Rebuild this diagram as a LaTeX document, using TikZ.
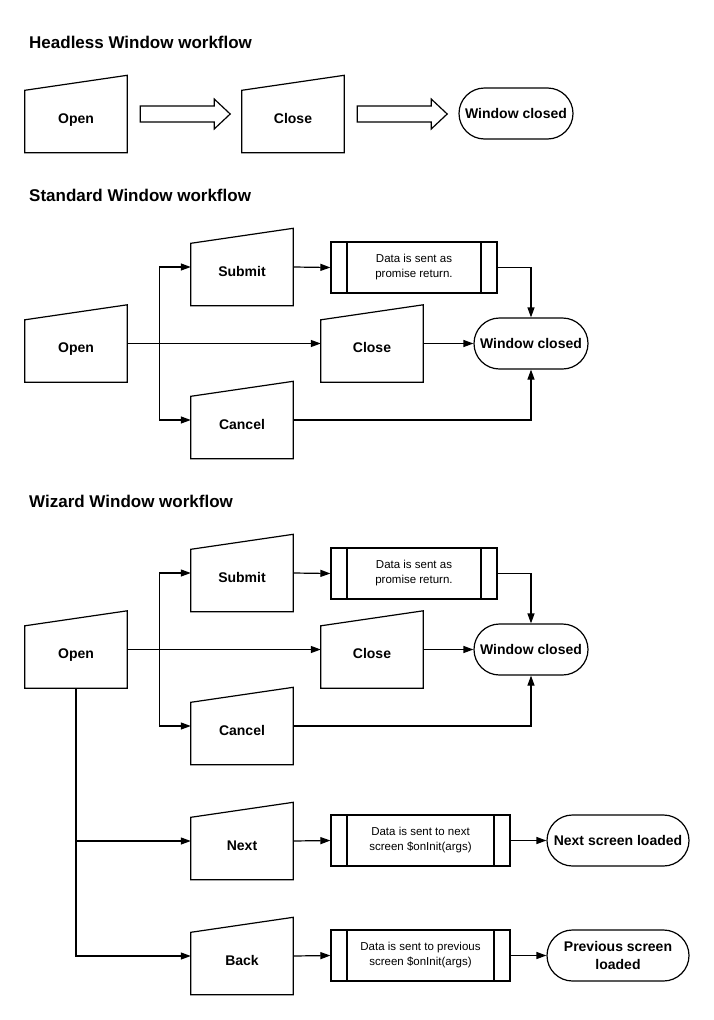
\documentclass[tikz,border=0pt]{standalone}
\usepackage{fontspec}
\setmainfont{Liberation Sans}
\usetikzlibrary{arrows.meta,calc}
\newcommand\maninput[3]{%
  \node[maninbox] (#1) at (#2) {#3};
  \draw[shp] (#1.south west) -- ([yshift=-15pt]#1.north west) -- (#1.north east) -- (#1.south east) -- cycle;}
\begin{document}
\begin{tikzpicture}[x=1pt,y=-1pt,
  lbl/.style={font=\bfseries\fontsize{14}{18}\selectfont},
  maninbox/.style={lbl, minimum width=102pt, minimum height=77pt, inner sep=0pt, text height=20pt, text depth=2pt},
  shp/.style={draw, line width=1.2pt, line join=miter},
  procbox/.style={shp, minimum height=51pt, inner sep=0pt, align=center, font=\fontsize{11.5}{15}\selectfont,
    path picture={\draw[line width=1.2pt]
      ([xshift=16pt]path picture bounding box.north west) -- ([xshift=16pt]path picture bounding box.south west)
      ([xshift=-16pt]path picture bounding box.north east) -- ([xshift=-16pt]path picture bounding box.south east);}},
  term/.style={shp, lbl, minimum height=51pt, rounded corners=25.5pt, inner sep=0pt, align=center},
  conn/.style={line width=1.2pt, -{Triangle[length=10pt,width=7pt]}},
  plain/.style={line width=1.2pt},
  title/.style={font=\bfseries\fontsize{17}{20}\selectfont, anchor=base west, inner sep=0pt}]
\useasboundingbox (0,0) rectangle (714,1020);
\fill[white] (0,0) rectangle (714,1020);

% ---------- Headless ----------
\node[title] (t1) at (29,48) {Headless Window workflow};
\maninput{hopen}{76,114}{Open}
\maninput{hclose}{293,114}{Close}
\node[term, minimum width=114pt] (hwc) at (516,113.5) {Window closed};
\draw[shp] ([xshift=13pt]hopen.east) ++(0,-8) -- ++(74,0) -- ++(0,-7) -- ++(16,15) -- ++(-16,15) -- ++(0,-7) -- ++(-74,0) -- cycle;
\draw[shp] ([xshift=13pt]hclose.east) ++(0,-8) -- ++(74,0) -- ++(0,-7) -- ++(16,15) -- ++(-16,15) -- ++(0,-7) -- ++(-74,0) -- cycle;

% ---------- Standard ----------
\node[title] (t2) at (29,201) {Standard Window workflow};
\maninput{sopen}{76,343.5}{Open}
\maninput{ssubmit}{242,267}{Submit}
\maninput{sclose}{372,343.5}{Close}
\maninput{scancel}{242,420}{Cancel}
\node[procbox, minimum width=166pt] (sdata) at (414,267.5) {Data is sent as\\promise return.};
\node[term, minimum width=114pt] (swc) at (531,343.5) {Window closed};
\coordinate (sbr) at ($(sopen.east)+(32,0)$);
\draw[conn] (sopen.east) -- (sclose.west);
\draw[plain] (sbr |- ssubmit.west) -- (sbr |- scancel.west);
\draw[conn] (sbr |- ssubmit.west) -- (ssubmit.west);
\draw[conn] (sbr |- scancel.west) -- (scancel.west);
\draw[conn] (ssubmit.east) -- (sdata.west);
\draw[conn] (sdata.east) -| (swc.north);
\draw[conn] (sclose.east) -- (swc.west);
\draw[conn] (scancel.east) -| (swc.south);

% ---------- Wizard ----------
\node[title] (t3) at (29,507) {Wizard Window workflow};
\maninput{wopen}{76,649.5}{Open}
\maninput{wsubmit}{242,573}{Submit}
\maninput{wclose}{372,649.5}{Close}
\maninput{wcancel}{242,726}{Cancel}
\node[procbox, minimum width=166pt] (wdata) at (414,573.5) {Data is sent as\\promise return.};
\node[term, minimum width=114pt] (wwc) at (531,649.5) {Window closed};
\coordinate (wbr) at ($(wopen.east)+(32,0)$);
\draw[conn] (wopen.east) -- (wclose.west);
\draw[plain] (wbr |- wsubmit.west) -- (wbr |- wcancel.west);
\draw[conn] (wbr |- wsubmit.west) -- (wsubmit.west);
\draw[conn] (wbr |- wcancel.west) -- (wcancel.west);
\draw[conn] (wsubmit.east) -- (wdata.west);
\draw[conn] (wdata.east) -| (wwc.north);
\draw[conn] (wclose.east) -- (wwc.west);
\draw[conn] (wcancel.east) -| (wwc.south);

\maninput{wnext}{242,841}{Next}
\maninput{wback}{242,956}{Back}
\node[procbox, minimum width=179pt] (wdata2) at (420.5,840.5) {Data is sent to next\\screen \$onInit(args)};
\node[procbox, minimum width=179pt] (wdata3) at (420.5,955.5) {Data is sent to previous\\screen \$onInit(args)};
\node[term, minimum width=142pt] (wnsl) at (618,840.5) {Next screen loaded};
\node[term, minimum width=142pt] (wpsl) at (618,955.5) {Previous screen\\loaded};
\draw[conn] (wopen.south) |- (wback.west);
\draw[conn] (wopen.south |- wnext.west) -- (wnext.west);
\draw[conn] (wnext.east) -- (wdata2.west);
\draw[conn] (wdata2.east) -- (wnsl.west);
\draw[conn] (wback.east) -- (wdata3.west);
\draw[conn] (wdata3.east) -- (wpsl.west);
\end{tikzpicture}
\end{document}
